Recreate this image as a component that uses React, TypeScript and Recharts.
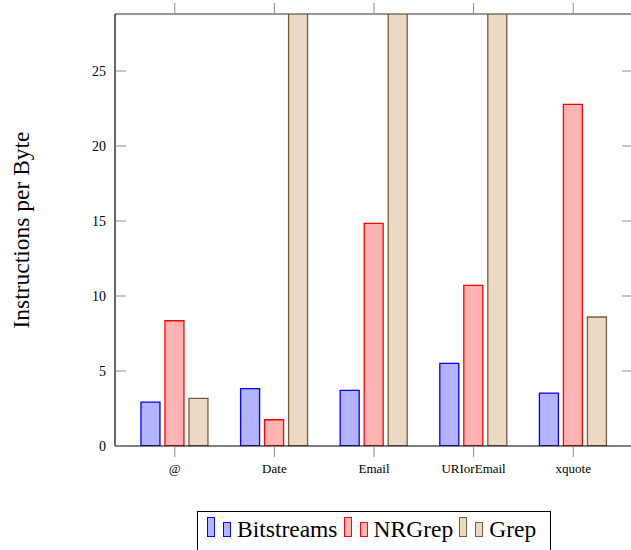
import React from "react";
import { BarChart, Bar, XAxis, YAxis } from "recharts";

// Values (Grep tops for Date/Email/URIorEmail run past the frame)
const categories = ["@", "Date", "Email", "URIorEmail", "xquote"];
const bitstreams = [2.92, 3.82, 3.71, 5.51, 3.53];
const nrgrep = [8.35, 1.75, 14.84, 10.71, 22.78];
const grep = [3.18, 31, 33, 32, 8.6];
const yTicks = [0, 5, 10, 15, 20, 25];
const categoryTicks = [0, 1, 2, 3, 4];

const series = [
  { key: "bitstreams", name: "Bitstreams", fill: "#b3b3ff", stroke: "#0000ff" },
  { key: "nrgrep", name: "NRGrep", fill: "#ffb3b3", stroke: "#ff0000" },
  { key: "grep", name: "Grep", fill: "#ebd9c5", stroke: "#7f5c3a" },
];

const chartData = categories.map((name, i) => ({
  idx: i,
  name,
  bitstreams: bitstreams[i],
  nrgrep: nrgrep[i],
  grep: grep[i],
}));

const serif = "Liberation Serif, serif";
const tickColor = "#8a8a8a";

function LegendBox() {
  return (
    <div
      style={{
        position: "absolute",
        left: 197,
        top: 511,
        width: 354,
        height: 44,
        border: "1px solid #000",
        background: "#fff",
        paddingLeft: 9,
        paddingTop: 2,
        boxSizing: "border-box",
        fontFamily: serif,
        fontSize: 23.5,
        lineHeight: "30px",
        whiteSpace: "nowrap",
        color: "#000",
      }}
    >
      {series.map((s) => (
        <span key={s.key}>
          <span
            style={{
              display: "inline-block",
              width: 8,
              height: 20,
              background: s.fill,
              border: `1.3px solid ${s.stroke}`,
              boxSizing: "border-box",
              marginRight: 8,
            }}
          />
          <span
            style={{
              display: "inline-block",
              width: 8,
              height: 15,
              background: s.fill,
              border: `1.3px solid ${s.stroke}`,
              boxSizing: "border-box",
              marginRight: 6,
            }}
          />
          <span style={{ marginRight: 6 }}>{s.name}</span>
        </span>
      ))}
    </div>
  );
}

export default function App() {
  return (
    <div
      style={{
        position: "absolute",
        left: 0,
        top: 0,
        width: 631,
        height: 550,
        overflow: "hidden",
        background: "#fff",
      }}
    >
      <BarChart
        width={634}
        height={550}
        data={chartData}
        margin={{ top: 13, right: 0, left: 0, bottom: 74 }}
        barSize={19}
        barGap={5}
      >
        <XAxis
          dataKey="idx"
          type="number"
          domain={[-0.6, 4.6]}
          allowDataOverflow
          ticks={categoryTicks}
          tickFormatter={(v) => categories[v] ?? ""}
          height={30}
          tickSize={11}
          tickMargin={7}
          tick={{ fontSize: 13, fill: "#000", fontFamily: serif }}
          tickLine={{ stroke: tickColor }}
          axisLine={{ stroke: "#000", strokeWidth: 1.2 }}
        />
        <XAxis
          xAxisId="top"
          dataKey="idx"
          type="number"
          orientation="top"
          domain={[-0.6, 4.6]}
          allowDataOverflow
          ticks={categoryTicks}
          tickFormatter={() => ""}
          height={1}
          tickSize={11}
          tickLine={{ stroke: tickColor }}
          axisLine={{ stroke: "#333", strokeWidth: 1.2 }}
        />
        <YAxis
          type="number"
          domain={[0, 28.8]}
          allowDataOverflow
          ticks={yTicks}
          width={115}
          tickSize={-11}
          tickMargin={20}
          tick={{ fontSize: 14, fill: "#000", fontFamily: serif }}
          tickLine={{ stroke: tickColor }}
          axisLine={{ stroke: "#000", strokeWidth: 1.2 }}
          label={{
            value: "Instructions per Byte",
            angle: -90,
            position: "center",
            dx: -37,
            style: { fontSize: 23.5, fill: "#000", fontFamily: serif },
          }}
        />
        <YAxis
          yAxisId="right"
          orientation="right"
          type="number"
          domain={[0, 28.8]}
          allowDataOverflow
          ticks={yTicks}
          width={1}
          tickSize={-11}
          tickFormatter={() => ""}
          tickLine={{ stroke: tickColor }}
          axisLine={{ stroke: "#000", strokeWidth: 1.2 }}
        />
        {series.map((s) => (
          <Bar
            key={s.key}
            dataKey={s.key}
            name={s.name}
            fill={s.fill}
            stroke={s.stroke}
            strokeWidth={1.3}
            isAnimationActive={false}
          />
        ))}
      </BarChart>
      <LegendBox />
    </div>
  );
}
